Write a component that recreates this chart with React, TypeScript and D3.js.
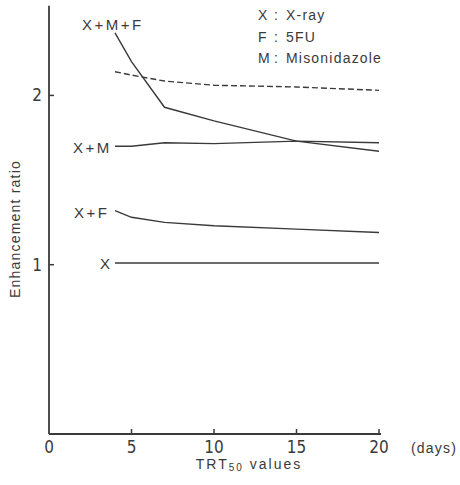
import React from "react";
import * as d3 from "d3";

// TRT50 days at which ratios were read
const days = [4, 5, 7, 10, 15, 20];

const xOnly = [1.01, 1.01, 1.01, 1.01, 1.01, 1.01];
const xPlusF = [1.32, 1.28, 1.25, 1.23, 1.21, 1.19];
const xPlusM = [1.7, 1.7, 1.72, 1.715, 1.73, 1.72];
const xPlusMPlusF = [2.37, 2.2, 1.93, 1.85, 1.73, 1.67];
const expected = [2.14, 2.12, 2.085, 2.06, 2.05, 2.03];

const xTicks = [0, 5, 10, 15, 20];
const yTicks = [1, 2];

const legendLines = [
  ["X", "X-ray"],
  ["F", "5FU"],
  ["M", "Misonidazole"],
];

const W = 460;
const H = 485;
const ink = "#3a3a3a";
const font = "Arial, 'Liberation Sans', Helvetica, sans-serif";
const numFont = "'Liberation Sans Narrow', 'Arial Narrow', 'DejaVu Sans Condensed', sans-serif";

export default function App() {
  const x = d3.scaleLinear().domain([0, 20]).range([49, 379]);
  const y = d3.scaleLinear().domain([0, 2.53]).range([434, 5.7]);

  const line = d3
    .line<number>()
    .x((_, i) => x(days[i]))
    .y((d) => y(d));

  const series = [
    { name: "X", vals: xOnly, dash: undefined, lx: 100, ly: 268.5 },
    { name: "X+F", vals: xPlusF, dash: undefined, lx: 74, ly: 217.5 },
    { name: "X+M", vals: xPlusM, dash: undefined, lx: 73, ly: 152.5 },
    { name: "X+M+F", vals: xPlusMPlusF, dash: undefined, lx: 82, ly: 29.5 },
    { name: "", vals: expected, dash: "6 3", lx: 0, ly: 0 },
  ];

  return (
    <div style={{ position: "absolute", left: 0, top: 0 }}>
      <svg width={W} height={H} style={{ display: "block", background: "#fff" }}>
        {/* axes */}
        <line x1={x(0)} x2={x(0)} y1={y(0)} y2={y(2.53)} stroke={ink} strokeWidth={1.8} />
        <line x1={x(0)} x2={x(20) + 2} y1={y(0)} y2={y(0)} stroke={ink} strokeWidth={1.8} />

        {xTicks.map((t) => (
          <g key={"xt" + t}>
            {t > 0 && <line x1={x(t)} x2={x(t)} y1={y(0)} y2={y(0) - 5} stroke={ink} strokeWidth={1.5} />}
            <text x={x(t)} y={453} textAnchor="middle" fontFamily={numFont} fontSize={17} fill={ink}>
              {t}
            </text>
          </g>
        ))}
        <text x={411} y={453} fontFamily={font} fontSize={14} letterSpacing={1.2} fill={ink}>
          (days)
        </text>

        {yTicks.map((t) => (
          <g key={"yt" + t}>
            <line x1={x(0)} x2={x(0) + 5} y1={y(t)} y2={y(t)} stroke={ink} strokeWidth={1.5} />
            <text x={42} y={y(t) + 6} textAnchor="end" fontFamily={numFont} fontSize={17} fill={ink}>
              {t}
            </text>
          </g>
        ))}

        <text
          transform={`translate(20,229) rotate(-90)`}
          textAnchor="middle"
          fontFamily={font}
          fontSize={14}
          letterSpacing={1.2}
          fill={ink}
        >
          Enhancement ratio
        </text>

        <text x={249} y={469} textAnchor="middle" fontFamily={font} fontSize={14} letterSpacing={2} fill={ink}>
          TRT
          <tspan fontSize={10} dy={2}>50</tspan>
          <tspan dy={-2}> values</tspan>
        </text>

        {/* curves */}
        {series.map((s, i) => (
          <path
            key={"s" + i}
            d={line(s.vals) || ""}
            fill="none"
            stroke={ink}
            strokeWidth={1.4}
            strokeDasharray={s.dash}
          />
        ))}

        {/* curve labels */}
        {series
          .filter((s) => s.name)
          .map((s) => (
            <text
              key={"lb" + s.name}
              x={s.lx}
              y={s.ly}
              fontFamily={font}
              fontSize={15}
              letterSpacing={2.5}
              fill={ink}
            >
              {s.name}
            </text>
          ))}

        {/* legend */}
        {legendLines.map(([k, v], i) => (
          <text key={"lg" + k} y={20 + i * 21.5} fontFamily={font} fontSize={14} letterSpacing={1.2} fill={ink}>
            <tspan x={258}>{k}</tspan>
            <tspan x={274}>:</tspan>
            <tspan x={286}>{v}</tspan>
          </text>
        ))}
      </svg>
    </div>
  );
}
